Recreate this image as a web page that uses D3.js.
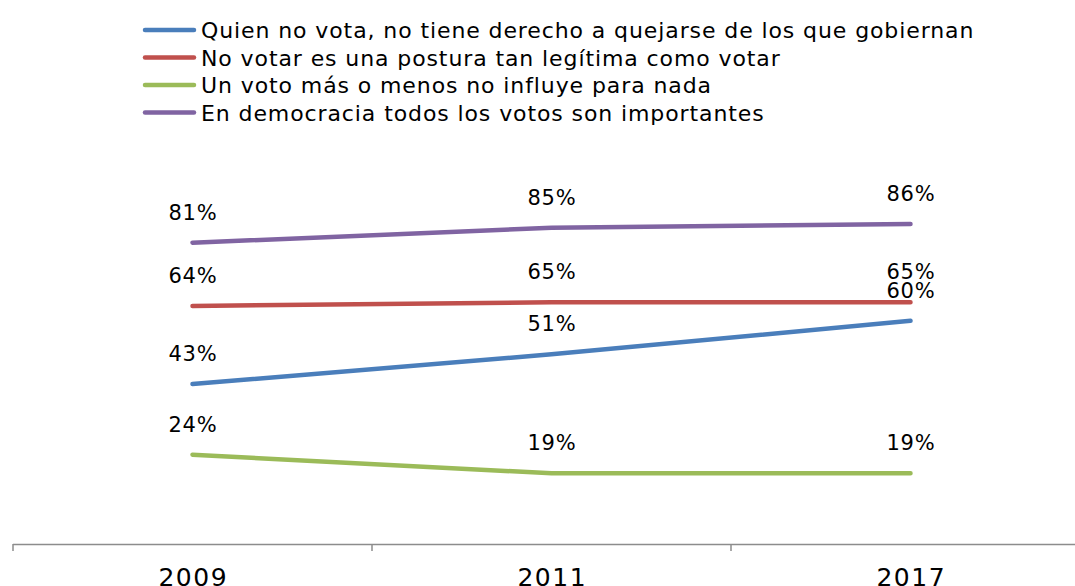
<!DOCTYPE html>
<html>
<head>
<meta charset="utf-8">
<script src="https://cdn.jsdelivr.net/npm/d3@7"></script>
<style>
body { margin: 0; background: #fff; }
svg { display: block; font-family: "DejaVu Sans", "Noto Sans", sans-serif; }
</style>
</head>
<body>
<div id="chart"></div>
<script>
var years = ['2009', '2011', '2017'];
var seriesNames = [
  'Quien no vota, no tiene derecho a quejarse de los que gobiernan',
  'No votar es una postura tan legítima como votar',
  'Un voto más o menos no influye para nada',
  'En democracia todos los votos son importantes'
];
var quien = [43, 51, 60];
var noVotar = [64, 65, 65];
var unVoto = [24, 19, 19];
var democracia = [81, 85, 86];
var colors = ['#4a7ebb', '#c0504d', '#9bbb59', '#8064a2'];

var series = [quien, noVotar, unVoto, democracia];

var width = 1075, height = 586;
var svg = d3.select('#chart').append('svg').attr('width', width).attr('height', height);

var x = d3.scaleBand().domain(years).range([13, 1090]);
var y = d3.scaleLinear().domain([0, 100]).range([544, 172]);

// eje x
svg.append('line').attr('x1', 13).attr('x2', 1090).attr('y1', 544.5).attr('y2', 544.5)
  .attr('stroke', '#8c8c8c').attr('stroke-width', 1.5);
svg.selectAll('.tk').data(years.concat(['end'])).enter().append('line')
  .attr('x1', function(d, i) { return 13 + i * x.step(); })
  .attr('x2', function(d, i) { return 13 + i * x.step(); })
  .attr('y1', 544).attr('y2', 551)
  .attr('stroke', '#8c8c8c').attr('stroke-width', 1.5);
svg.selectAll('.yr').data(years).enter().append('text')
  .attr('x', function(d) { return x(d) + x.bandwidth() / 2 + 0.75; })
  .attr('y', 586)
  .attr('text-anchor', 'middle')
  .attr('font-size', 25)
  .attr('letter-spacing', 1.5)
  .attr('fill', '#000')
  .text(function(d) { return d; });

var line = d3.line()
  .x(function(d, i) { return x(years[i]) + x.bandwidth() / 2; })
  .y(function(d) { return y(d); });

series.forEach(function(s, k) {
  svg.append('path').datum(s)
    .attr('d', line)
    .attr('fill', 'none')
    .attr('stroke', colors[k])
    .attr('stroke-width', 4.5)
    .attr('stroke-linecap', 'round');
});

series.forEach(function(s, k) {
  svg.selectAll('.lbl' + k).data(s).enter().append('text')
    .attr('x', function(d, i) { return x(years[i]) + x.bandwidth() / 2 + 0.5; })
    .attr('y', function(d) { return y(d) - 23; })
    .attr('text-anchor', 'middle')
    .attr('font-size', 21)
    .attr('letter-spacing', 0.8)
    .attr('fill', '#000')
    .text(function(d) { return d + '%'; });
});

// leyenda
var lg = svg.append('g');
seriesNames.forEach(function(n, k) {
  var ly = 30 + k * 27.5;
  lg.append('line').attr('x1', 145).attr('x2', 194).attr('y1', ly).attr('y2', ly)
    .attr('stroke', colors[k]).attr('stroke-width', 4.5).attr('stroke-linecap', 'round');
  lg.append('text').attr('x', 201).attr('y', ly + 8)
    .attr('font-size', 22).attr('letter-spacing', 0.9).attr('fill', '#000').text(n);
});
</script>
</body>
</html>
